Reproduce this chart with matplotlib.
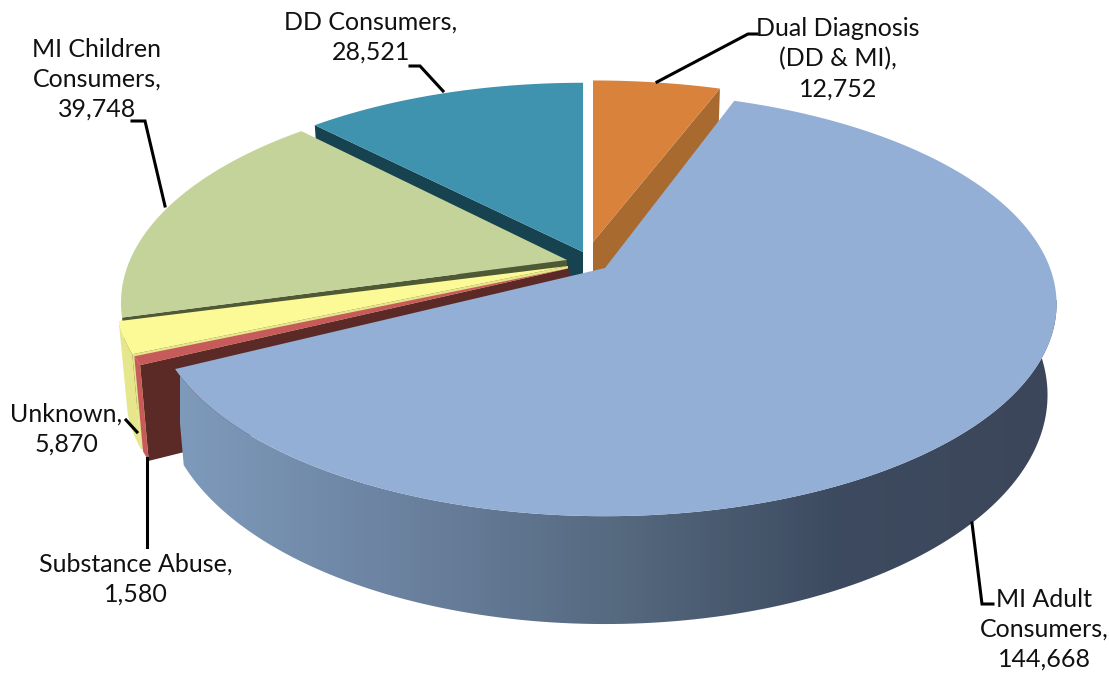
import numpy as np
import matplotlib
matplotlib.use("Agg")
import matplotlib.pyplot as plt
from matplotlib.colors import LinearSegmentedColormap
from matplotlib.patches import Polygon

plt.rcParams['font.family'] = ['Lato', 'DejaVu Sans']

# Values, clockwise from 12 o'clock
names = ["Dual Diagnosis\n(DD & MI),", "MI Adult\nConsumers,", "Substance Abuse,",
         "Unknown,", "MI Children\nConsumers,", "DD Consumers,"]
values = [12752, 144668, 1580, 5870, 39748, 28521]

top_colors = ["#D9823C", "#93AFD5", "#C75B5B", "#FCFA96", "#C3D39A", "#3F93AE"]
cut_colors = ["#A96A2F", "#93AFD5", "#5C2A26", "#E6E68C", "#4F5A35", "#17424F"]
wall_colors = ["#A96A2F", "#7E9ABB", "#C75B5B", "#E6E68C", "#4F5A35", "#17424F"]

# Exploded slice layout in pixels: apex x, apex y, horizontal and vertical radius
apex_x = [593, 605, 570, 568, 567, 583]
apex_y = [242, 268, 268, 266, 260, 252]
rad_x = [437, 445, 445, 445, 437, 433]
rad_y = [189, 206, 198, 198, 205, 198]
persp = [0.17, 0.17, 0.17, 0.17, 0.20, 0.17]
drop = 88
low_x = 0.98
low_y = 1.08

# Paint order, back to front
order = [5, 0, 4, 3, 2, 1]

# Text centre x, first line top y, and leader line for each slice
label_x = [838, 1044, 136, 66, 97, 371]
label_y = [17, 588, 553, 403, 38, 11]
leaders = [
    [(657, 82), (748, 34), (757, 34)],
    [(972, 523), (982, 604), (993, 604)],
    [(147, 458), (147, 547)],
    [(137, 432), (126, 420)],
    [(165, 206), (145, 121), (132, 121)],
    [(443, 91), (420, 66), (410, 66)],
]

fractions = np.array(values) / sum(values)
ends = np.cumsum(fractions) * 2 * np.pi
starts = ends - fractions * 2 * np.pi


def top_pts(i, th):
    u = np.sin(th)
    v = -np.cos(th)
    w = 1 - persp[i] * v
    return apex_x[i] + rad_x[i] * u / w, apex_y[i] + rad_y[i] * v / w


def low_pts(i, th):
    x, y = top_pts(i, th)
    return (apex_x[i] + (x - apex_x[i]) * low_x,
            apex_y[i] + drop + (y - apex_y[i]) * low_y)


fig = plt.figure(figsize=(11.09, 6.76), dpi=100)
ax = fig.add_axes([0, 0, 1, 1])

for i in order:
    th = np.linspace(starts[i], ends[i], 200)
    tx, ty = top_pts(i, th)
    bx, by = low_pts(i, th)

    # cut face on the leading edge of each slice
    if i == 0:
        edge = ends[i]
    else:
        edge = starts[i]
    ex, ey = top_pts(i, edge)
    fx, fy = low_pts(i, edge)
    if i != 1:
        ax.add_patch(Polygon([(apex_x[i], apex_y[i]), (ex, ey), (fx, fy),
                              (apex_x[i], apex_y[i] + drop)],
                             facecolor=cut_colors[i], edgecolor="none", zorder=2))

    # outer wall
    wall = np.column_stack([np.r_[tx, bx[::-1]], np.r_[ty, by[::-1]]])
    if i == 1:
        cmap = LinearSegmentedColormap.from_list(
            "wall", ["#7E9ABB", "#6B82A0", "#55697F", "#3C4A5F", "#3C465A"])
        grad = np.linspace(0, 1, 256).reshape(1, -1)
        im = ax.imshow(grad, cmap=cmap, extent=[180, 1060, 640, 300], aspect="auto", zorder=2)
        im.set_clip_path(Polygon(wall, transform=ax.transData))
    elif i in (2, 3):
        ax.add_patch(Polygon(wall, facecolor=wall_colors[i], edgecolor="none", zorder=2))

    # top face
    ax.add_patch(Polygon(np.column_stack([np.r_[apex_x[i], tx], np.r_[apex_y[i], ty]]),
                         facecolor=top_colors[i], edgecolor="none", zorder=2))

for i in range(len(values)):
    lx, ly = zip(*leaders[i])
    ax.plot(lx, ly, color="black", lw=2.2, solid_joinstyle="miter", zorder=3)
    ax.text(label_x[i], label_y[i], names[i] + "\n" + f"{values[i]:,}",
            ha="center", va="top", fontsize=18, linespacing=1.36,
            color="#111111", zorder=4)

ax.set_xlim(0, 1109)
ax.set_ylim(676, 0)
ax.axis("off")
fig.savefig("out.png", dpi=100)
